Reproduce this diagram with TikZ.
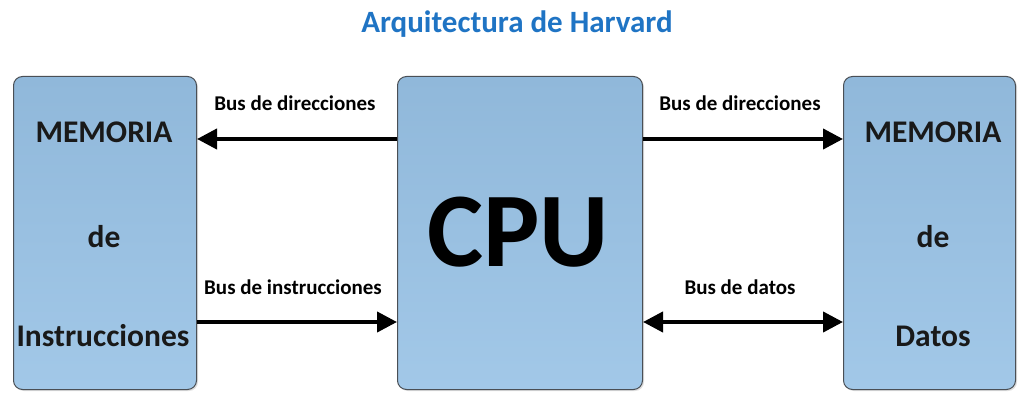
\documentclass[tikz,border=0pt]{standalone}
\usepackage{fontspec}
\setmainfont{Carlito}
\usetikzlibrary{arrows.meta,shadows}
\definecolor{titleblue}{HTML}{1F74C4}
\definecolor{boxtop}{HTML}{90B8DA}
\definecolor{boxbot}{HTML}{A2C8E8}
\definecolor{boxline}{HTML}{4A4F55}
\tikzset{
  blk/.style={draw=boxline, line width=1pt, rounded corners=9pt,
    top color=boxtop, bottom color=boxbot, anchor=north west,
    drop shadow={shadow xshift=1.5pt, shadow yshift=-1.5pt, opacity=0.25}},
  memtxt/.style={font=\fontsize{31.5}{33}\selectfont\bfseries, text=black!90},
  buslbl/.style={font=\fontsize{21}{23}\selectfont\bfseries, text=black},
  bus/.style={line width=4pt, -{Triangle[length=20pt,width=20pt]}},
  dbus/.style={line width=4pt, {Triangle[length=20pt,width=20pt]}-{Triangle[length=20pt,width=20pt]}}
}
\begin{document}
\begin{tikzpicture}[x=1pt,y=-1pt]
\useasboundingbox (0,0) rectangle (1018,393);
\node[font=\fontsize{31}{33}\selectfont\bfseries, text=titleblue] (title) at (517,24) {Arquitectura de Harvard};
\node[blk, minimum width=183pt, minimum height=313pt] (mi) at (13,76) {};
\node[blk, minimum width=245pt, minimum height=313pt] (cpu) at (397,76) {};
\node[blk, minimum width=172pt, minimum height=313pt] (md) at (843,76) {};
\node[font=\fontsize{106}{110}\selectfont\bfseries, text=black] (cputxt) at (518,232) {CPU};
\node[memtxt] (m1) at (104,132) {MEMORIA};
\node[memtxt] (m2) at (104,237) {de};
\node[memtxt] (m3) at (103,336) {Instrucciones};
\node[memtxt] (d1) at (933,132) {MEMORIA};
\node[memtxt] (d2) at (933,237) {de};
\node[memtxt] (d3) at (933,336) {Datos};
\coordinate (ytop) at (0,139);
\coordinate (ybot) at (0,322);
\node[buslbl] (l1) at (295,103) {Bus de direcciones};
\node[buslbl] (l2) at (293,287) {Bus de instrucciones};
\node[buslbl] (l3) at (740,103) {Bus de direcciones};
\node[buslbl] (l4) at (740,287) {Bus de datos};
\draw[bus] (cpu.west |- ytop) -- (mi.east |- ytop);
\draw[bus] (mi.east |- ybot) -- (cpu.west |- ybot);
\draw[bus] (cpu.east |- ytop) -- (md.west |- ytop);
\draw[dbus] (cpu.east |- ybot) -- (md.west |- ybot);
\end{tikzpicture}
\end{document}
